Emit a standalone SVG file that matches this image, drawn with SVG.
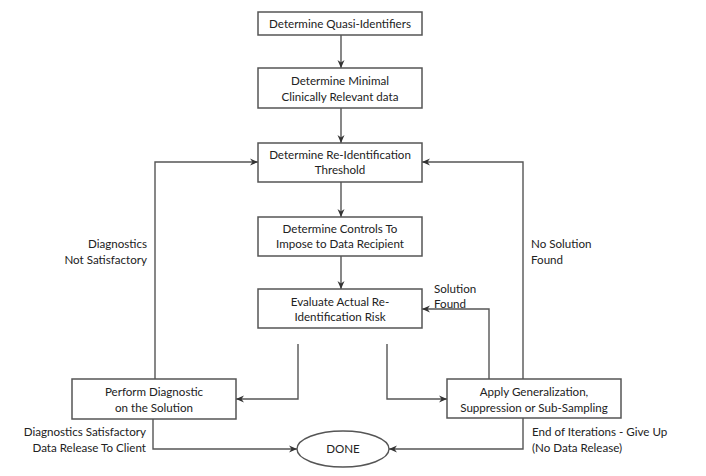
<svg xmlns="http://www.w3.org/2000/svg" width="706" height="476" viewBox="0 0 706 476">
<style>
.box{fill:#fff;stroke:#555;stroke-width:1.5}
.ln{fill:none;stroke:#555;stroke-width:1.4}
text{font-family:Lato,"Liberation Sans",sans-serif;font-size:11.6px;fill:#222}
.c{text-anchor:middle}
.r{text-anchor:end}
</style>
<defs>
<marker id="ah" viewBox="0 0 8 8" refX="8" refY="4" markerWidth="8" markerHeight="8" markerUnits="userSpaceOnUse" orient="auto">
<path d="M0,0.5 L8,4 L0,7.5 L2.5,4 z" fill="#333"/>
</marker>
</defs>
<rect width="706" height="476" fill="#fff"/>
<g id="connectors">
<line class="ln" x1="341" y1="35" x2="341" y2="68" marker-end="url(#ah)"/>
<line class="ln" x1="341" y1="108" x2="341" y2="143" marker-end="url(#ah)"/>
<line class="ln" x1="341" y1="182" x2="341" y2="217" marker-end="url(#ah)"/>
<line class="ln" x1="341" y1="256" x2="341" y2="289" marker-end="url(#ah)"/>
<polyline class="ln" points="155,379 155,162 258,162" marker-end="url(#ah)"/>
<polyline class="ln" points="523,379 523,162 422,162" marker-end="url(#ah)"/>
<polyline class="ln" points="489,379 489,309 422,309" marker-end="url(#ah)"/>
<polyline class="ln" points="298,344 298,399 236,399" marker-end="url(#ah)"/>
<polyline class="ln" points="387,344 387,399 447,399" marker-end="url(#ah)"/>
<polyline class="ln" points="153,419 153,449 297,449" marker-end="url(#ah)"/>
<polyline class="ln" points="523,418 523,449 389,449" marker-end="url(#ah)"/>
</g>
<g id="n1"><rect class="box" x="258" y="12" width="164" height="23"/><text class="c" x="340" y="28">Determine Quasi-Identifiers</text></g>
<g id="n2"><rect class="box" x="258" y="68" width="164" height="40"/><text class="c" x="340" y="85">Determine Minimal</text><text class="c" x="340" y="101">Clinically Relevant data</text></g>
<g id="n3"><rect class="box" x="258" y="143" width="164" height="39"/><text class="c" x="340" y="159">Determine Re-Identification</text><text class="c" x="340" y="174">Threshold</text></g>
<g id="n4"><rect class="box" x="258" y="217" width="164" height="39"/><text class="c" x="340" y="233">Determine Controls To</text><text class="c" x="340" y="248">Impose to Data Recipient</text></g>
<g id="n5"><rect class="box" x="258" y="289" width="164" height="39"/><text class="c" x="340" y="306">Evaluate Actual Re-</text><text class="c" x="340" y="321">Identification Risk</text></g>
<g id="n6"><rect class="box" x="72" y="379" width="164" height="40"/><text class="c" x="154" y="396">Perform Diagnostic</text><text class="c" x="154" y="412">on the Solution</text></g>
<g id="n7"><rect class="box" x="447" y="379" width="174" height="39"/><text class="c" x="534" y="396">Apply Generalization,</text><text class="c" x="534" y="412">Suppression or Sub-Sampling</text></g>
<g id="n8"><ellipse cx="343" cy="449" rx="46" ry="18" fill="#fff" stroke="#555" stroke-width="1.4"/><text class="c" x="343" y="453">DONE</text></g>
<g id="labels">
<text class="r" x="147" y="248">Diagnostics</text>
<text class="r" x="147" y="264">Not Satisfactory</text>
<text x="531" y="248">No Solution</text>
<text x="531" y="264">Found</text>
<text x="434" y="293">Solution</text>
<text x="434" y="308">Found</text>
<text class="r" x="146" y="436">Diagnostics Satisfactory</text>
<text class="r" x="146" y="452">Data Release To Client</text>
<text x="532" y="436">End of Iterations - Give Up</text>
<text x="532" y="452">(No Data Release)</text>
</g>
</svg>
